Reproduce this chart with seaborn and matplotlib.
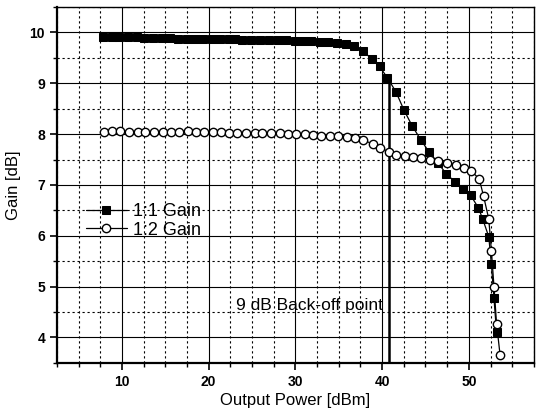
import numpy as np
import pandas as pd
import seaborn as sns
import matplotlib
matplotlib.use("Agg")
import matplotlib.pyplot as plt
from matplotlib.ticker import MultipleLocator

# 1:1 Gain (filled squares)
x_11 = [7.8, 8.8, 9.7, 10.7, 11.7, 12.6, 13.6, 14.6, 15.5, 16.5, 17.5, 18.4, 19.4,
        20.4, 21.3, 22.3, 23.0, 23.9, 24.9, 25.9, 26.9, 28.0, 28.9, 29.9, 30.9,
        31.8, 32.8, 33.8, 34.8, 35.8, 36.8, 37.8, 38.8, 39.7, 40.6, 41.6, 42.5,
        43.5, 44.5, 45.4, 46.4, 47.4, 48.4, 49.3, 50.2, 51.1, 51.6, 52.3, 52.6,
        52.9, 53.2]
g_11 = [9.90, 9.90, 9.91, 9.90, 9.90, 9.89, 9.89, 9.89, 9.89, 9.88, 9.88, 9.88, 9.88,
        9.87, 9.87, 9.87, 9.87, 9.86, 9.86, 9.86, 9.85, 9.85, 9.85, 9.84, 9.84,
        9.83, 9.82, 9.81, 9.80, 9.78, 9.73, 9.63, 9.48, 9.33, 9.11, 8.83, 8.48,
        8.15, 7.88, 7.65, 7.44, 7.22, 7.06, 6.93, 6.80, 6.55, 6.33, 5.98, 5.44,
        4.77, 4.10]

# 1:2 Gain (open circles)
x_12 = [7.9, 8.9, 9.8, 10.8, 11.8, 12.7, 13.7, 14.7, 15.6, 16.6, 17.6, 18.5, 19.5,
        20.5, 21.4, 22.4, 23.3, 24.3, 25.3, 26.2, 27.2, 28.2, 29.1, 30.1, 31.1,
        32.0, 33.0, 34.0, 34.9, 35.9, 36.9, 37.8, 38.9, 39.8, 40.8, 41.6, 42.6,
        43.6, 44.5, 45.5, 46.4, 47.5, 48.5, 49.5, 50.3, 51.2, 51.7, 52.3, 52.6,
        52.9, 53.2, 53.6]
g_12 = [8.05, 8.06, 8.06, 8.05, 8.05, 8.05, 8.04, 8.05, 8.05, 8.05, 8.06, 8.05, 8.05,
        8.05, 8.04, 8.03, 8.03, 8.02, 8.03, 8.02, 8.02, 8.02, 8.01, 8.01, 8.00,
        7.98, 7.97, 7.97, 7.96, 7.95, 7.92, 7.88, 7.81, 7.73, 7.65, 7.59, 7.57,
        7.55, 7.53, 7.50, 7.47, 7.44, 7.39, 7.33, 7.27, 7.12, 6.78, 6.33, 5.71,
        5.00, 4.27, 3.66]

backoff_x = 40.8
backoff_top = 9.1

df_11 = pd.DataFrame(dict(power=x_11, gain=g_11))
df_12 = pd.DataFrame(dict(power=x_12, gain=g_12))

sns.set_style("ticks")
plt.rcParams['font.family'] = ['Liberation Sans', 'DejaVu Sans']
plt.rcParams['text.color'] = 'black'
plt.rcParams['axes.labelcolor'] = 'black'

fig = plt.figure(figsize=(5.42, 4.11), dpi=100)
ax = fig.add_axes([0.105, 0.117, 0.880, 0.866])

sns.lineplot(df_11, x="power", y="gain", ax=ax, color="black", lw=0.9,
             marker="s", markersize=5.7, markerfacecolor="black",
             markeredgecolor="black", estimator=None, sort=False, label="1:1 Gain")
sns.lineplot(df_12, x="power", y="gain", ax=ax, color="black", lw=0.9,
             marker="o", markersize=6, markerfacecolor="white",
             markeredgecolor="black", markeredgewidth=1.0, estimator=None,
             sort=False, label="1:2 Gain")

ax.plot([backoff_x, backoff_x], [3.5, backoff_top], color="black", lw=1.8, zorder=1)
ax.text(31.6, 4.63, "9 dB Back-off point", fontsize=12.5, ha="center", va="center")

ax.set_xlim(2.5, 57.5)
ax.set_ylim(3.5, 10.5)
ax.xaxis.set_major_locator(MultipleLocator(10))
ax.xaxis.set_minor_locator(MultipleLocator(2.5))
ax.yaxis.set_major_locator(MultipleLocator(1))
ax.yaxis.set_minor_locator(MultipleLocator(0.5))
ax.grid(which="major", color="black", lw=0.8, ls="-")
ax.grid(which="minor", color="black", lw=0.8, ls=(0, (2, 2.5)))
ax.set_axisbelow(True)

ax.tick_params(which="major", direction="out", length=5, width=1.2, colors="black",
               labelsize=10)
ax.tick_params(which="minor", direction="out", length=3, width=1.0, colors="black")
for lab in ax.get_xticklabels() + ax.get_yticklabels():
    lab.set_fontweight("bold")

for side in ["top", "right"]:
    ax.spines[side].set_linewidth(1.0)
    ax.spines[side].set_visible(True)
for side in ["bottom", "left"]:
    ax.spines[side].set_linewidth(1.6)
for s in ax.spines.values():
    s.set_color("black")

ax.set_xlabel("Output Power [dBm]", fontsize=12, labelpad=3)
ax.set_ylabel("Gain [dB]", fontsize=12, labelpad=6)

leg = ax.legend(loc="upper left", bbox_to_anchor=(0.045, 0.47), frameon=False,
                fontsize=13, handlelength=2.3, handletextpad=0.3, labelspacing=0.1,
                borderaxespad=0)
for t in leg.get_texts():
    t.set_color("black")

plt.savefig("out.png", dpi=100)
